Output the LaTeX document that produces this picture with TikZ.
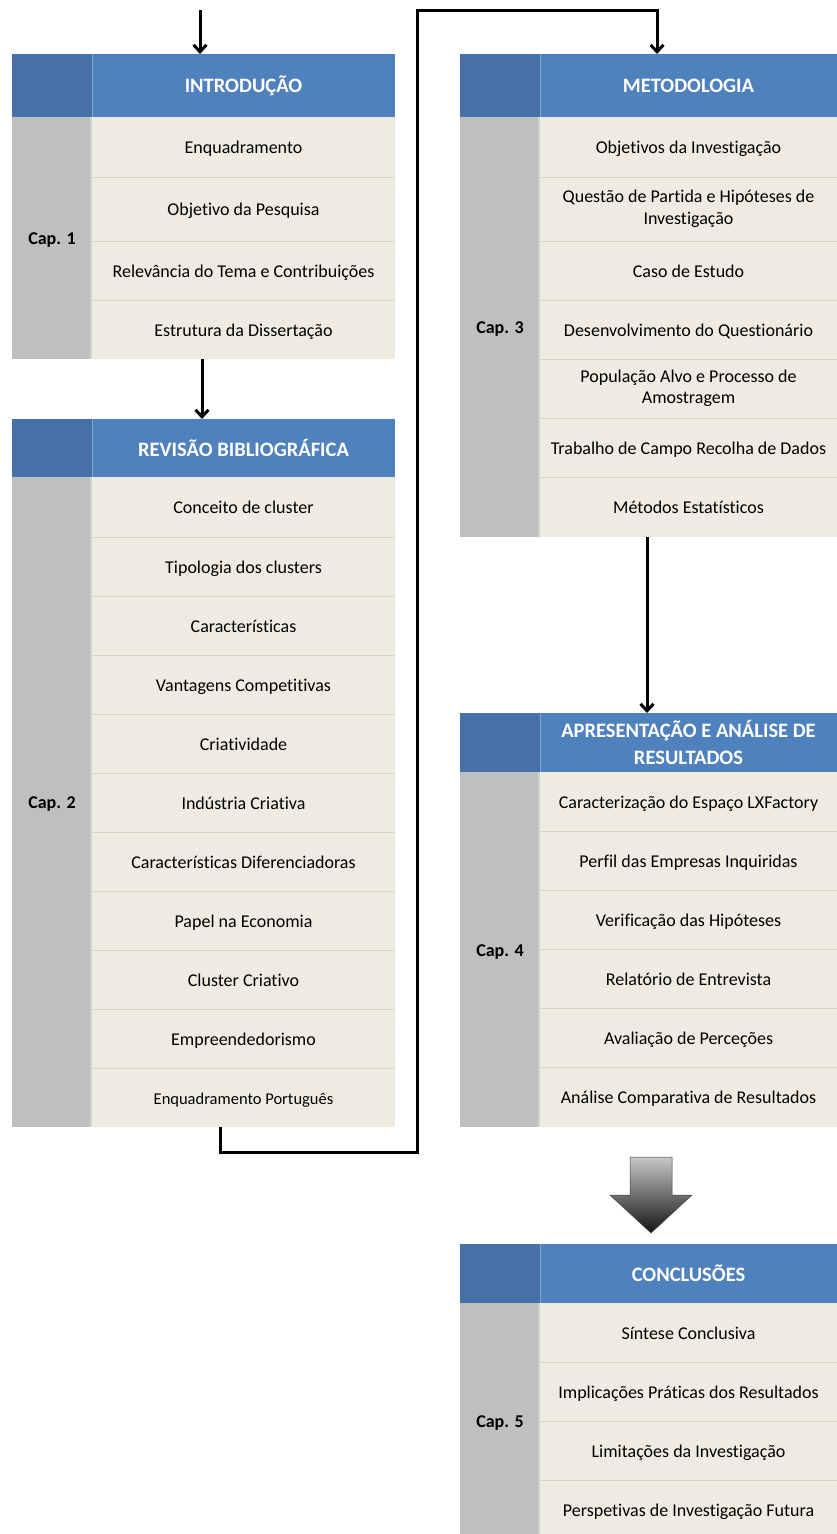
\documentclass[tikz,border=0pt]{standalone}
\usepackage{fontspec}
\setmainfont{Carlito}[Ligatures=NoCommon]
\usetikzlibrary{arrows.meta,calc}

\definecolor{hdrblue}{HTML}{4F81BD}
\definecolor{lblblue}{HTML}{4571A8}
\definecolor{capgray}{HTML}{BFBFBF}
\definecolor{rowtan}{HTML}{EEECE1}
\definecolor{septan}{HTML}{DAD6C3}
\definecolor{hdrline}{HTML}{7FA4D4}
\definecolor{capline}{HTML}{D2D2D2}

\tikzset{
  cellbase/.style={anchor=north west, inner sep=0pt, outer sep=0pt, align=center},
  hdr/.style={cellbase, fill=hdrblue, text=white, font=\fontsize{20.5}{27}\selectfont\bfseries},
  lblhdr/.style={cellbase, fill=lblblue},
  capcol/.style={cellbase, fill=capgray, font=\fontsize{18}{22}\selectfont\bfseries,
    text height=17pt, text depth=4pt},
  itembase/.style={cellbase, fill=rowtan, font=\fontsize{18}{21.5}\selectfont},
  item/.style={itembase, text height=17pt, text depth=4pt},
  itemtwo/.style={itembase},
  flow/.style={line width=3pt, -{Straight Barb[length=7pt,width=13pt,line width=3pt]}},
  rowrule/.style={septan, line width=0.9pt},
  hdrrule/.style={hdrline, line width=1.2pt},
  caprule/.style={capline, line width=1.6pt},
}

% one table cell: style, name, x, y (top-left corner), width, height, text
\newcommand\cell[7]{\node[#1, minimum width=#5pt, minimum height=#6pt] (#2) at (#3,#4) {#7};}

\begin{document}
\begin{tikzpicture}[x=1pt, y=-1pt]
\useasboundingbox (0,0) rectangle (837,1534);
\clip (0,0) rectangle (837,1534);

% ---------- Chapter 1 ----------
\cell{lblhdr}{L1}{12}{54}{80}{63}{}
\cell{hdr}{H1}{92}{54}{303}{63}{INTRODUÇÃO}
\cell{capcol}{C1}{12}{117}{80}{242}{Cap. 1}
\cell{item}{A1}{92}{117}{303}{60}{Enquadramento}
\cell{item}{A2}{92}{177}{303}{64}{Objetivo da Pesquisa}
\cell{item}{A3}{92}{241}{303}{59}{Relevância do Tema e Contribuições}
\cell{item}{A4}{92}{300}{303}{59}{Estrutura da Dissertação}

% ---------- Chapter 2 ----------
\cell{lblhdr}{L2}{12}{419}{80}{58}{}
\cell{hdr}{H2}{92}{419}{303}{58}{REVISÃO BIBLIOGRÁFICA}
\cell{capcol}{C2}{12}{477}{80}{650}{Cap. 2}
\cell{item}{B1}{92}{477}{303}{60}{Conceito de cluster}
\cell{item}{B2}{92}{537}{303}{59}{Tipologia dos clusters}
\cell{item}{B3}{92}{596}{303}{59}{Características}
\cell{item}{B4}{92}{655}{303}{59}{Vantagens Competitivas}
\cell{item}{B5}{92}{714}{303}{59}{Criatividade}
\cell{item}{B6}{92}{773}{303}{59}{Indústria Criativa}
\cell{item}{B7}{92}{832}{303}{59}{Características Diferenciadoras}
\cell{item}{B8}{92}{891}{303}{59}{Papel na Economia}
\cell{item}{B9}{92}{950}{303}{59}{Cluster Criativo}
\cell{item}{B10}{92}{1009}{303}{59}{Empreendedorismo}
\cell{item, font=\fontsize{16.5}{20}\selectfont}{B11}{92}{1068}{303}{59}{Enquadramento Português}

% ---------- Chapter 3 ----------
\cell{lblhdr}{L3}{460}{54}{80}{63}{}
\cell{hdr}{H3}{540}{54}{297}{63}{METODOLOGIA}
\cell{capcol}{C3}{460}{117}{80}{420}{Cap. 3}
\cell{item}{D1}{540}{117}{297}{60}{Objetivos da Investigação}
\cell{itemtwo}{D2}{540}{177}{297}{64}{Questão de Partida e Hipóteses de\\Investigação}
\cell{item}{D3}{540}{241}{297}{59}{Caso de Estudo}
\cell{item}{D4}{540}{300}{297}{59}{Desenvolvimento do Questionário}
\cell{itemtwo}{D5}{540}{359}{297}{59}{População Alvo e Processo de\\Amostragem}
\cell{item}{D6}{540}{418}{297}{59}{Trabalho de Campo Recolha de Dados}
\cell{item}{D7}{540}{477}{297}{60}{Métodos Estatísticos}

% ---------- Chapter 4 ----------
\cell{lblhdr}{L4}{460}{713}{80}{59}{}
\cell{hdr}{H4}{540}{713}{297}{59}{APRESENTAÇÃO E ANÁLISE DE\\RESULTADOS}
\cell{capcol}{C4}{460}{772}{80}{355}{Cap. 4}
\cell{item}{E1}{540}{772}{297}{59}{Caracterização do Espaço LXFactory}
\cell{item}{E2}{540}{831}{297}{59}{Perfil das Empresas Inquiridas}
\cell{item}{E3}{540}{890}{297}{59}{Verificação das Hipóteses}
\cell{item}{E4}{540}{949}{297}{59}{Relatório de Entrevista}
\cell{item}{E5}{540}{1008}{297}{59}{Avaliação de Perceções}
\cell{item}{E6}{540}{1067}{297}{60}{Análise Comparativa de Resultados}

% ---------- Chapter 5 ----------
\cell{lblhdr}{L5}{460}{1244}{80}{59}{}
\cell{hdr}{H5}{540}{1244}{297}{59}{CONCLUSÕES}
\cell{capcol}{C5}{460}{1303}{80}{236}{Cap. 5}
\cell{item}{F1}{540}{1303}{297}{59}{Síntese Conclusiva}
\cell{item}{F2}{540}{1362}{297}{59}{Implicações Práticas dos Resultados}
\cell{item}{F3}{540}{1421}{297}{59}{Limitações da Investigação}
\cell{item}{F4}{540}{1480}{297}{59}{Perspetivas de Investigação Futura}

% row separators
\foreach \n in {A1,A2,A3,B1,B2,B3,B4,B5,B6,B7,B8,B9,B10,D1,D2,D3,D4,D5,D6,E1,E2,E3,E4,E5,F1,F2,F3}
  \draw[rowrule] (\n.south west) -- (\n.south east);

% column dividers
\foreach \h in {H1,H2,H3,H4,H5}
  \draw[hdrrule] ([xshift=0.6pt]\h.north west) -- ([xshift=0.6pt]\h.south west);
\foreach \c in {C1,C2,C3,C4,C5}
  \draw[caprule] ([xshift=-0.8pt]\c.north east) -- ([xshift=-0.8pt]\c.south east);

% ---------- connectors ----------
\coordinate (in1) at (200,10);
\draw[flow] (in1) -- (in1 |- H1.north);

\coordinate (m1) at (202,0);
\draw[flow] (m1 |- A4.south) -- (m1 |- H2.north);

\coordinate (k1) at (220,1152);
\coordinate (k2) at (417,1152);
\coordinate (k3) at (417,10);
\coordinate (k4) at (657,10);
\draw[flow] (k1 |- B11.south) -- (k1) -- (k2) -- (k3) -- (k4) -- (k4 |- H3.north);

\coordinate (m3) at (647,0);
\draw[flow] (m3 |- D7.south) -- (m3 |- H4.north);

% shaded block arrow between chapters 4 and 5
\shade[top color=black!22, bottom color=black!92, draw=black!75, line width=0.5pt]
  (630,1157) -- (672,1157) -- (672,1195) -- (692,1195) -- (651,1233)
  -- (610,1195) -- (630,1195) -- cycle;
\end{tikzpicture}
\end{document}
